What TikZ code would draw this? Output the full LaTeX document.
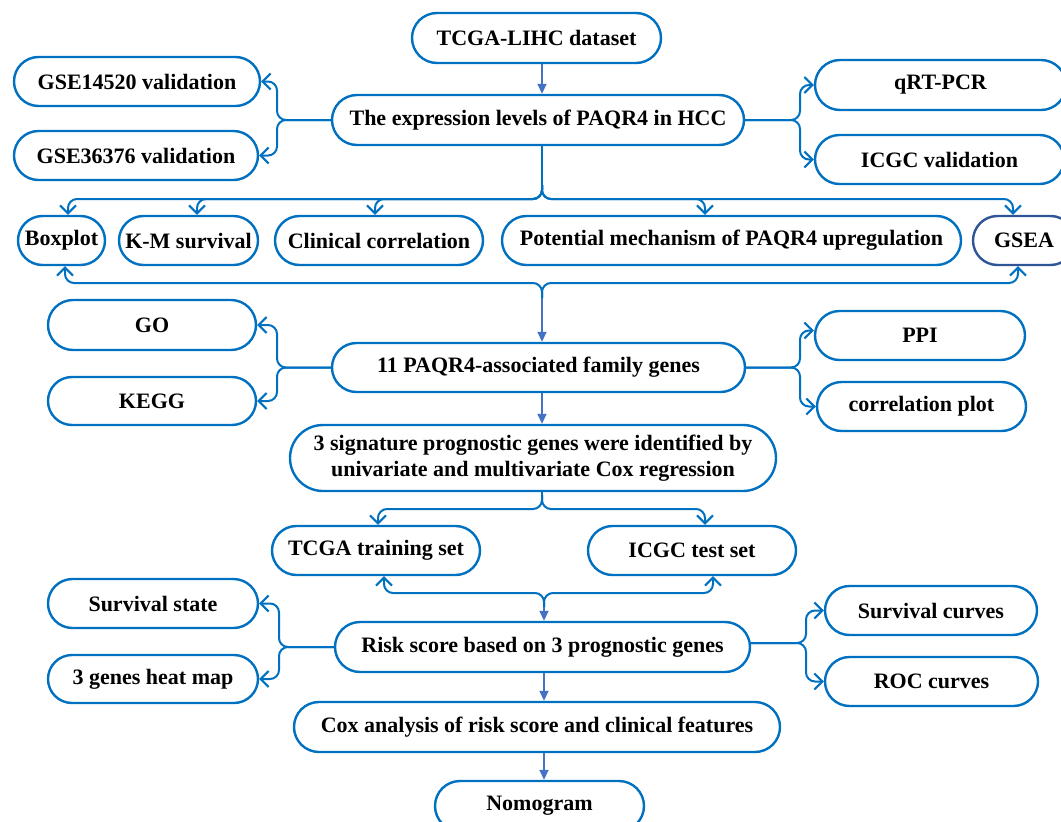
\documentclass[tikz,border=0pt]{standalone}
\usepackage{fontspec}
\setmainfont{Liberation Serif}
\usetikzlibrary{shapes.misc,arrows.meta}
\definecolor{boxblue}{RGB}{0,112,192}
\definecolor{arrblue}{RGB}{68,114,196}
\definecolor{navyblue}{RGB}{47,85,151}
\tikzset{
  pill/.style={rounded rectangle, draw=boxblue, line width=2.4pt, inner sep=2pt,
    font=\fontsize{22}{25}\selectfont\bfseries, text=black, align=center},
  conn/.style={draw=boxblue, line width=2pt, rounded corners=9pt,
    -{Straight Barb[length=8pt,width=16pt,line width=2pt]}},
  stem/.style={draw=boxblue, line width=2pt, rounded corners=9pt},
  farrow/.style={draw=arrblue, line width=1.8pt, -{Triangle[length=10pt,width=9pt]}}
}
\begin{document}
\begin{tikzpicture}[x=1pt,y=-1pt]
\useasboundingbox (0,0) rectangle (1061,822);
\clip (0,0) rectangle (1061,822);
% boxes
\node[pill, minimum width=253pt, minimum height=50pt] (tcga) at (536.5,38) {TCGA-LIHC dataset};
\node[pill, minimum width=416pt, minimum height=50pt] (expr) at (538,120) {The expression levels of PAQR4 in HCC};
\node[pill, minimum width=250pt, minimum height=49pt] (gse1) at (137,81.5) {GSE14520 validation};
\node[pill, minimum width=248pt, minimum height=49pt] (gse2) at (136,155.5) {GSE36376 validation};
\node[pill, minimum width=255pt, minimum height=50pt] (qrt) at (940.5,85) {qRT-PCR};
\node[pill, minimum width=253pt, minimum height=49pt] (icgcv) at (939.5,159.5) {ICGC validation};
\node[pill, minimum width=91pt, minimum height=49pt] (boxplot) at (61.5,240.5) {Boxplot};
\node[pill, minimum width=143pt, minimum height=49pt] (km) at (188.5,240.5) {K-M survival};
\node[pill, minimum width=212pt, minimum height=49pt] (clin) at (379,240.5) {Clinical correlation};
\node[pill, minimum width=463pt, minimum height=49pt] (pot) at (731.5,240.5) {Potential mechanism of PAQR4 upregulation};
\node[pill, draw=navyblue, minimum width=106pt, minimum height=49pt] (gsea) at (1024,240.5) {GSEA};
\node[pill, minimum width=212pt, minimum height=50pt] (go) at (152,325) {GO};
\node[pill, minimum width=212pt, minimum height=48pt] (kegg) at (152,401) {KEGG};
\node[pill, minimum width=417pt, minimum height=49pt] (fam) at (538.5,367.5) {11 PAQR4-associated family genes};
\node[pill, minimum width=214pt, minimum height=49pt] (ppi) at (920,335.5) {PPI};
\node[pill, minimum width=213pt, minimum height=49pt] (corr) at (921.5,406.5) {correlation plot};
\node[pill, minimum width=490pt, minimum height=66pt, font=\fontsize{22}{26}\selectfont\bfseries] (sig) at (533,458) {3 signature prognostic genes were identified by\\univariate and multivariate Cox regression};
\node[pill, minimum width=212pt, minimum height=49pt] (train) at (376,550.5) {TCGA training set};
\node[pill, minimum width=212pt, minimum height=49pt] (test) at (692,550.5) {ICGC test set};
\node[pill, minimum width=214pt, minimum height=49pt] (surv) at (153,603.5) {Survival state};
\node[pill, minimum width=214pt, minimum height=48pt] (heat) at (153,679) {3 genes heat map};
\node[pill, minimum width=419pt, minimum height=50pt] (risk) at (542.5,647) {Risk score based on 3 prognostic genes};
\node[pill, minimum width=216pt, minimum height=49pt] (scurv) at (931,610.5) {Survival curves};
\node[pill, minimum width=217pt, minimum height=49pt] (roc) at (931.5,681.5) {ROC curves};
\node[pill, minimum width=490pt, minimum height=50pt] (cox) at (537,727) {Cox analysis of risk score and clinical features};
\node[pill, minimum width=213pt, minimum height=50pt] (nomo) at (539.5,806) {Nomogram};
% helper coordinates
\coordinate (xL1) at (277,0);
\coordinate (xR1) at (800,0);
\coordinate (xL3) at (279,0);
\coordinate (xR3) at (806,0);
\coordinate (j1) at (542,185);
\coordinate (h1) at (0,199);
\coordinate (j2) at (542,298);
\coordinate (h2) at (0,283);
\coordinate (j3) at (542,495);
\coordinate (h3) at (0,509);
\coordinate (j4) at (544,607);
\coordinate (h4) at (0,593);
\coordinate (rE) at ([yshift=4pt]risk.east);
\coordinate (ppiW) at ([yshift=5pt]ppi.west);
% straight arrows
\draw[farrow] (tcga.south -| j1) -- (expr.north -| j1);
\draw[farrow] (j2) -- (fam.north -| j2);
\draw[farrow] (fam.south -| j2) -- (sig.north -| j2);
\draw[farrow] (j4) -- (risk.north -| j4);
\draw[farrow] (risk.south -| j4) -- (cox.north -| j4);
\draw[farrow] (cox.south -| j4) -- (nomo.north -| j4);
% side braces level 1
\draw[conn] (expr.west) -- (xL1 |- expr.west) |- (gse1.east);
\draw[conn] (expr.west) -- (xL1 |- expr.west) |- (gse2.east);
\draw[conn] (expr.east) -- (xR1 |- expr.east) |- (qrt.west);
\draw[conn] (expr.east) -- (xR1 |- expr.east) |- (icgcv.west);
% top fork
\draw[stem] (j1 |- expr.south) -- (j1);
\draw[conn] (j1) -- (j1 |- h1) -| ([xshift=6.5pt]boxplot.north);
\draw[conn] (j1) -- (j1 |- h1) -| ([xshift=8.5pt]km.north);
\draw[conn] (j1) -- (j1 |- h1) -| ([xshift=-4pt]clin.north);
\draw[conn] (j1) -- (j1 |- h1) -| ([xshift=-26.5pt]pot.north);
\draw[conn] (j1) -- (j1 |- h1) -| ([xshift=-11pt]gsea.north);
% bottom fork
\draw[conn] (j2) -- (j2 |- h2) -| ([xshift=3.5pt]boxplot.south);
\draw[conn] (j2) -- (j2 |- h2) -| ([xshift=-6pt]gsea.south);
% side braces level 2
\draw[conn] (fam.west) -- (xL1 |- fam.west) |- (go.east);
\draw[conn] (fam.west) -- (xL1 |- fam.west) |- (kegg.east);
\draw[conn] (fam.east) -- (xR1 |- fam.east) |- (ppiW);
\draw[conn] (fam.east) -- (xR1 |- fam.east) |- (corr.west);
% signature fork
\draw[stem] (j3 |- sig.south) -- (j3);
\draw[conn] (j3) -- (j3 |- h3) -| ([xshift=2pt]train.north);
\draw[conn] (j3) -- (j3 |- h3) -| ([xshift=13pt]test.north);
% train/test fork
\draw[conn] (j4) -- (j4 |- h4) -| ([xshift=8pt]train.south);
\draw[conn] (j4) -- (j4 |- h4) -| ([xshift=21pt]test.south);
% side braces level 3
\draw[conn] (risk.west) -- (xL3 |- risk.west) |- (surv.east);
\draw[conn] (risk.west) -- (xL3 |- risk.west) |- (heat.east);
\draw[conn] (rE) -- (xR3 |- rE) |- (scurv.west);
\draw[conn] (rE) -- (xR3 |- rE) |- (roc.west);
\end{tikzpicture}
\end{document}
